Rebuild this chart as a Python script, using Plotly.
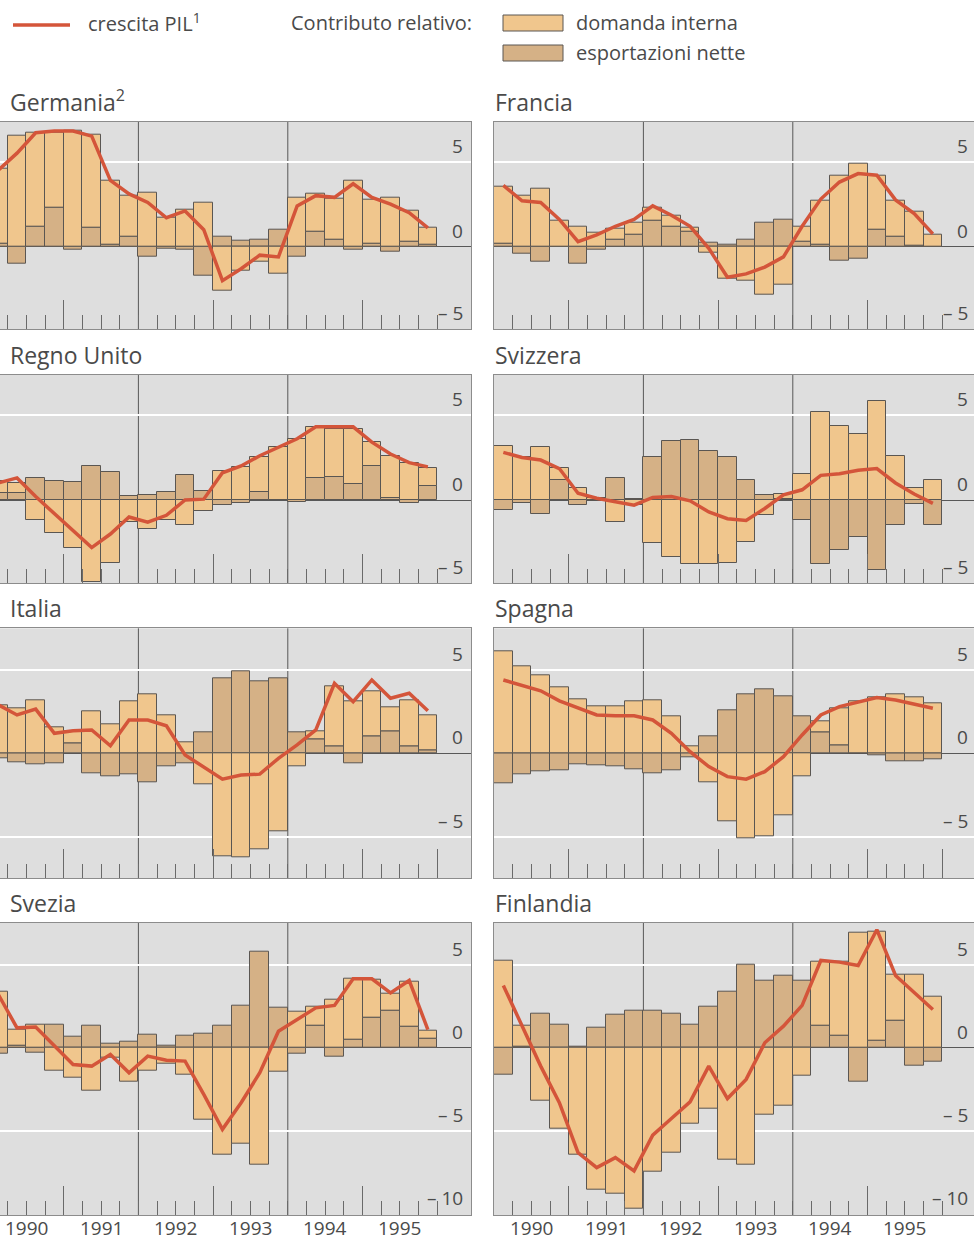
import plotly.graph_objects as go

# ---------------------------------------------------------------------------
# Dati trimestrali 1990-1995: crescita del PIL e contributi relativi
# ---------------------------------------------------------------------------
trimestri = [f"{anno} T{q}" for anno in range(1990, 1996) for q in range(1, 5)]
anni = [1990, 1991, 1992, 1993, 1994, 1995]

germania_pil = [4.5, 5.5, 6.7, 6.8, 6.8, 6.5, 3.9, 3.1, 2.6, 1.7, 2.1, 1.0,
                -2.0, -1.3, -0.5, -0.6, 2.4, 3.0, 2.9, 3.7, 2.9, 2.5, 2.0, 1.1]
germania_domanda = [4.4, 6.5, 5.5, 4.4, 6.8, 5.5, 3.8, 2.4, 3.2, 1.7, 2.2, 2.6,
                    -2.6, -1.4, -0.9, -1.6, 2.9, 2.2, 2.45, 3.9, 2.6, 2.9, 1.8, 1.0]
germania_esport = [0.2, -1.0, 1.2, 2.3, -0.2, 1.1, 0.1, 0.6, -0.6, -0.1, -0.2, -1.7,
                   0.6, 0.35, 0.4, 1.0, -0.6, 0.9, 0.4, -0.2, 0.15, -0.3, 0.3, 0.1]

francia_pil = [3.6, 2.7, 2.6, 1.6, 0.3, 0.7, 1.2, 1.6, 2.4, 1.85, 1.2, -0.1,
               -1.8, -1.6, -1.2, -0.6, 1.2, 2.8, 3.8, 4.3, 4.2, 2.75, 1.95, 0.75]
francia_domanda = [3.3, 3.0, 3.4, 1.5, 1.2, 0.8, 0.65, 0.7, 0.8, 0.6, 0.2, -0.35,
                   -1.9, -2.0, -2.8, -2.25, 0.9, 2.6, 4.2, 4.9, 3.15, 2.1, 2.0, 0.7]
francia_esport = [0.2, -0.4, -0.9, 0.0, -1.0, -0.15, 0.4, 0.7, 1.5, 1.2, 0.9, 0.25,
                  0.1, 0.4, 1.4, 1.6, 0.3, 0.1, -0.85, -0.7, 1.0, 0.6, 0.05, 0.0]

regno_unito_pil = [1.0, 1.3, 0.2, -0.8, -1.8, -2.8, -2.0, -1.0, -1.3, -0.9, 0.0, 0.05,
                   1.6, 2.0, 2.6, 3.1, 3.6, 4.3, 4.3, 4.3, 3.4, 2.7, 2.2, 1.95]
regno_unito_domanda = [0.7, 0.6, -1.2, -1.95, -2.8, -4.8, -3.7, -1.3, -1.7, -1.2, -1.45, -0.65,
                       1.7, 1.95, 2.0, 3.1, 3.6, 3.0, 2.8, 3.2, 1.4, 2.5, 2.2, 1.1]
regno_unito_esport = [0.4, 0.4, 1.3, 1.1, 1.05, 2.0, 1.65, 0.25, 0.3, 0.45, 1.45, 0.55,
                      -0.3, -0.15, 0.5, 0.0, -0.1, 1.3, 1.35, 0.95, 2.0, 0.1, -0.2, 0.8]

svizzera_pil = [2.8, 2.5, 2.35, 1.85, 0.4, 0.1, -0.1, -0.3, 0.15, 0.2, -0.05, -0.7,
                -1.1, -1.2, -0.5, 0.3, 0.6, 1.45, 1.55, 1.75, 1.85, 1.0, 0.35, -0.2]
svizzera_domanda = [3.2, 2.55, 3.1, 0.7, 0.7, 0.1, -1.3, -0.3, -2.5, -3.35, -3.75, -3.75,
                    -3.7, -2.45, -0.9, 0.3, 1.5, 5.2, 4.35, 3.9, 5.8, 2.6, 0.7, 1.2]
svizzera_esport = [-0.6, -0.2, -0.8, 1.2, -0.3, -0.05, 1.3, 0.05, 2.55, 3.45, 3.55, 2.9,
                   2.55, 1.2, 0.3, 0.05, -1.2, -3.75, -2.95, -2.15, -4.1, -1.45, -0.25, -1.45]

italia_pil = [2.9, 2.3, 2.65, 1.2, 1.35, 1.4, 0.45, 2.0, 2.0, 1.65, -0.1, -0.8,
              -1.55, -1.3, -1.25, -0.3, 0.5, 1.4, 4.2, 3.1, 4.4, 3.3, 3.6, 2.55]
italia_domanda = [2.9, 2.7, 3.2, 1.55, 0.7, 2.5, 1.75, 3.15, 3.55, 2.3, 0.65, -1.85,
                  -6.15, -6.25, -5.75, -4.7, -0.8, 0.5, 3.65, 3.15, 2.75, 1.45, 2.75, 2.1]
italia_esport = [-0.3, -0.55, -0.65, -0.6, 0.6, -1.2, -1.4, -1.25, -1.75, -0.75, -0.6, 1.25,
                 4.5, 4.9, 4.35, 4.5, 1.25, 0.85, 0.4, -0.6, 1.0, 1.3, 0.45, 0.2]

spagna_pil = [4.4, 4.05, 3.75, 3.15, 2.75, 2.3, 2.25, 2.25, 2.0, 1.2, 0.1, -0.8,
              -1.4, -1.55, -1.1, -0.2, 1.1, 2.3, 2.8, 3.05, 3.35, 3.2, 2.95, 2.7]
spagna_domanda = [6.1, 5.25, 4.7, 3.95, 3.25, 2.85, 2.85, 3.1, 3.2, 2.2, 0.4, -1.75,
                  -4.05, -5.1, -5.0, -3.7, -1.35, 0.65, 2.2, 3.1, 3.35, 3.55, 3.35, 3.0]
spagna_esport = [-1.8, -1.25, -1.1, -1.0, -0.65, -0.7, -0.8, -0.95, -1.2, -1.0, -0.25, 1.0,
                 2.6, 3.55, 3.85, 3.4, 2.2, 1.25, 0.5, 0.0, -0.1, -0.45, -0.5, -0.35]

svezia_pil = [3.2, 1.2, 1.25, 0.1, -1.0, -1.1, -0.4, -1.5, -0.5, -0.75, -0.8, -2.8,
              -4.9, -3.3, -1.5, 1.0, 1.7, 2.4, 2.55, 4.15, 4.15, 3.3, 4.05, 1.1]
svezia_domanda = [3.4, 1.0, 1.4, -1.35, -1.8, -2.6, -0.6, -2.05, -1.4, -0.95, -1.6, -4.3,
                  -6.45, -5.75, -7.05, -1.45, 2.15, 1.15, 2.9, 3.65, 2.3, 1.0, 2.7, 0.45]
svezia_esport = [-0.35, 0.1, -0.3, 1.4, 0.65, 1.35, 0.25, 0.35, 0.8, 0.1, 0.7, 0.85,
                 1.35, 2.55, 5.75, 2.4, -0.35, 1.35, -0.55, 0.5, 1.8, 2.25, 1.25, 0.55]

finlandia_pil = [3.75, 1.3, -1.1, -3.3, -6.3, -7.2, -6.6, -7.4, -5.25, -4.25, -3.25, -1.1,
                 -3.05, -1.9, 0.3, 1.3, 2.55, 5.25, 5.15, 4.95, 7.1, 4.35, 3.35, 2.3]
finlandia_domanda = [5.25, 1.25, -3.15, -4.85, -6.4, -8.55, -8.75, -9.7, -7.45, -6.3, -4.55, -3.65,
                     -6.7, -7.05, -4.0, -3.5, -1.7, 3.85, 4.4, 6.9, 6.55, 2.8, 4.4, 3.05]
finlandia_esport = [-1.6, 0.05, 2.05, 1.4, 0.05, 1.2, 2.0, 2.25, 2.25, 2.05, 1.4, 2.45,
                    3.4, 5.0, 4.05, 4.35, 4.05, 1.3, 0.75, -2.05, 0.45, 1.6, -1.05, -0.85]

pannelli = [
    ("Germania<sup>2</sup>", germania_pil, germania_domanda, germania_esport),
    ("Francia", francia_pil, francia_domanda, francia_esport),
    ("Regno Unito", regno_unito_pil, regno_unito_domanda, regno_unito_esport),
    ("Svizzera", svizzera_pil, svizzera_domanda, svizzera_esport),
    ("Italia", italia_pil, italia_domanda, italia_esport),
    ("Spagna", spagna_pil, spagna_domanda, spagna_esport),
    ("Svezia", svezia_pil, svezia_domanda, svezia_esport),
    ("Finlandia", finlandia_pil, finlandia_domanda, finlandia_esport),
]

# ---------------------------------------------------------------------------
# Stile e geometria
# ---------------------------------------------------------------------------
W, H = 974, 1241
FONT = "Open Sans"
TXT = "#4a4a4a"
BG = "#dedede"
CHIARO = "#f0c68d"      # domanda interna
SCURO = "#d5b186"       # esportazioni nette
BORDO_BARRE = "#5a5652"
ROSSO = "#d4553a"
CORNICE = "#8c8c8c"
SEPARATORE = "#585858"

ANNO_PX = 74.7
COLONNE_PX = [(0, 471), (494, 974)]
COLONNE_RANGE = [(1990 + 11 / ANNO_PX, 1990 + 482 / ANNO_PX),
                 (1990, 1990 + 480 / ANNO_PX)]
RIGHE_PX = [(121.7, 329.3), (375.0, 583.0), (628.3, 878.3), (922.7, 1215.0)]
RIGHE_RANGE = [(-4.86, 7.35), (-4.88, 7.35), (-7.5, 7.5), (-10.05, 7.52)]
RIGHE_ETICHETTE = [[5, 0, -5], [5, 0, -5], [5, 0, -5], [5, 0, -5, -10]]
SEPARATORI = [1992, 1994]


def pos_trimestre(t):
    anno, q = t.split(" T")
    return int(anno) + (int(q) - 0.5) / 4


x_trim = [pos_trimestre(t) for t in trimestri]
confini_trim = [anni[0] + k / 4 for k in range(len(trimestri) + 1)]


def etichetta(v):
    return f"\u2013 {abs(v)}" if v < 0 else str(v)


fig = go.Figure()
annotazioni = []
forme = []

for n, (nome, pil, domanda, esport) in enumerate(pannelli, start=1):
    riga, col = divmod(n - 1, 2)
    sfx = "" if n == 1 else str(n)
    xa, ya = f"x{sfx}", f"y{sfx}"

    fig.add_trace(go.Bar(x=x_trim, y=esport, width=0.25, xaxis=xa, yaxis=ya,
                         marker=dict(color=SCURO, line=dict(color=BORDO_BARRE, width=1)),
                         showlegend=False, hoverinfo="skip"))
    fig.add_trace(go.Bar(x=x_trim, y=domanda, width=0.25, xaxis=xa, yaxis=ya,
                         marker=dict(color=CHIARO, line=dict(color=BORDO_BARRE, width=1)),
                         showlegend=False, hoverinfo="skip"))
    fig.add_trace(go.Scatter(x=x_trim, y=pil, mode="lines", xaxis=xa, yaxis=ya,
                             line=dict(color=ROSSO, width=3.5),
                             showlegend=False, hoverinfo="skip"))

    x0, x1 = COLONNE_PX[col]
    y0, y1 = RIGHE_PX[riga]
    lunghi = [1991, 1993, 1995] + ([1996] if riga == 2 else [])
    fig.layout[f"xaxis{sfx}"] = dict(
        domain=[x0 / W, x1 / W], range=list(COLONNE_RANGE[col]), anchor=ya,
        showline=True, linecolor=CORNICE, linewidth=1, mirror=True,
        showgrid=False, zeroline=False, showticklabels=False,
        tickmode="array", tickvals=lunghi, ticks="inside", ticklen=29,
        tickcolor="#6a6a6a", tickwidth=1,
        minor=dict(tickmode="array", tickvals=confini_trim, ticks="inside",
                   ticklen=14, tickcolor="#6a6a6a", tickwidth=1, showgrid=False),
        fixedrange=True,
    )
    fig.layout[f"yaxis{sfx}"] = dict(
        domain=[1 - y1 / H, 1 - y0 / H], range=list(RIGHE_RANGE[riga]), anchor=xa,
        side="right", showline=True, linecolor=CORNICE, linewidth=1,
        mirror=(col == 1), tickmode="array", tickvals=[-5, 5], ticks="",
        showticklabels=False, showgrid=True, gridcolor="#ffffff", gridwidth=2,
        zeroline=True, zerolinecolor=SEPARATORE, zerolinewidth=1, fixedrange=True,
    )

    for s in SEPARATORI:
        forme.append(dict(type="line", xref=xa, yref=f"{ya} domain", x0=s, x1=s,
                          y0=0, y1=1, line=dict(color=SEPARATORE, width=1),
                          layer="below"))

    # titolo del pannello
    annotazioni.append(dict(text=nome, xref="paper", yref="paper",
                            x=(x0 + (8 if col == 0 else -1)) / W, y=1 - y0 / H,
                            xanchor="left", yanchor="bottom", yshift=2,
                            showarrow=False, font=dict(family=FONT, size=23, color=TXT)))

    # etichette dell'asse dei valori, interne a destra; quelle sotto il
    # limite inferiore dell'asse si appoggiano al bordo del pannello
    basso = RIGHE_RANGE[riga][0]
    for v in RIGHE_ETICHETTE[riga]:
        if v >= basso:
            yref, yv = ya, v
        else:
            yref, yv = f"{ya} domain", 0
        annotazioni.append(dict(text=etichetta(v), xref=f"{xa} domain", yref=yref,
                                x=1, y=yv, xanchor="right", yanchor="bottom",
                                xshift=-6 if col == 0 else -4, yshift=1,
                                showarrow=False, font=dict(family=FONT, size=19, color=TXT)))

    # anni sotto l'ultima riga
    if riga == len(RIGHE_PX) - 1:
        for a in anni:
            annotazioni.append(dict(text=str(a), xref=xa, yref="paper",
                                    x=a + 0.5, y=0, xanchor="center", yanchor="bottom",
                                    yshift=-2, showarrow=False,
                                    font=dict(family=FONT, size=19, color=TXT)))

# ---------------------------------------------------------------------------
# Legenda
# ---------------------------------------------------------------------------
forme.append(dict(type="line", xref="paper", yref="paper", x0=13 / W, x1=70 / W,
                  y0=1 - 25 / H, y1=1 - 25 / H, line=dict(color=ROSSO, width=3.5)))
forme.append(dict(type="rect", xref="paper", yref="paper", x0=503 / W, x1=563 / W,
                  y0=1 - 31 / H, y1=1 - 15 / H, fillcolor=CHIARO,
                  line=dict(color=BORDO_BARRE, width=1)))
forme.append(dict(type="rect", xref="paper", yref="paper", x0=503 / W, x1=563 / W,
                  y0=1 - 61 / H, y1=1 - 45 / H, fillcolor=SCURO,
                  line=dict(color=BORDO_BARRE, width=1)))

for testo, px, py in [("crescita PIL<sup>1</sup>", 86, 23),
                      ("Contributo relativo:", 289, 23),
                      ("domanda interna", 574, 23),
                      ("esportazioni nette", 574, 53)]:
    annotazioni.append(dict(text=testo, xref="paper", yref="paper", x=px / W, y=1 - py / H,
                            xanchor="left", yanchor="middle", showarrow=False,
                            font=dict(family=FONT, size=20, color=TXT)))

fig.update_layout(
    width=W, height=H, autosize=False,
    margin=dict(l=0, r=0, t=0, b=0, pad=0),
    paper_bgcolor="#ffffff", plot_bgcolor=BG,
    barmode="relative", bargap=0,
    font=dict(family=FONT, color=TXT),
    annotations=annotazioni, shapes=forme,
)

fig.write_html("out.html")
